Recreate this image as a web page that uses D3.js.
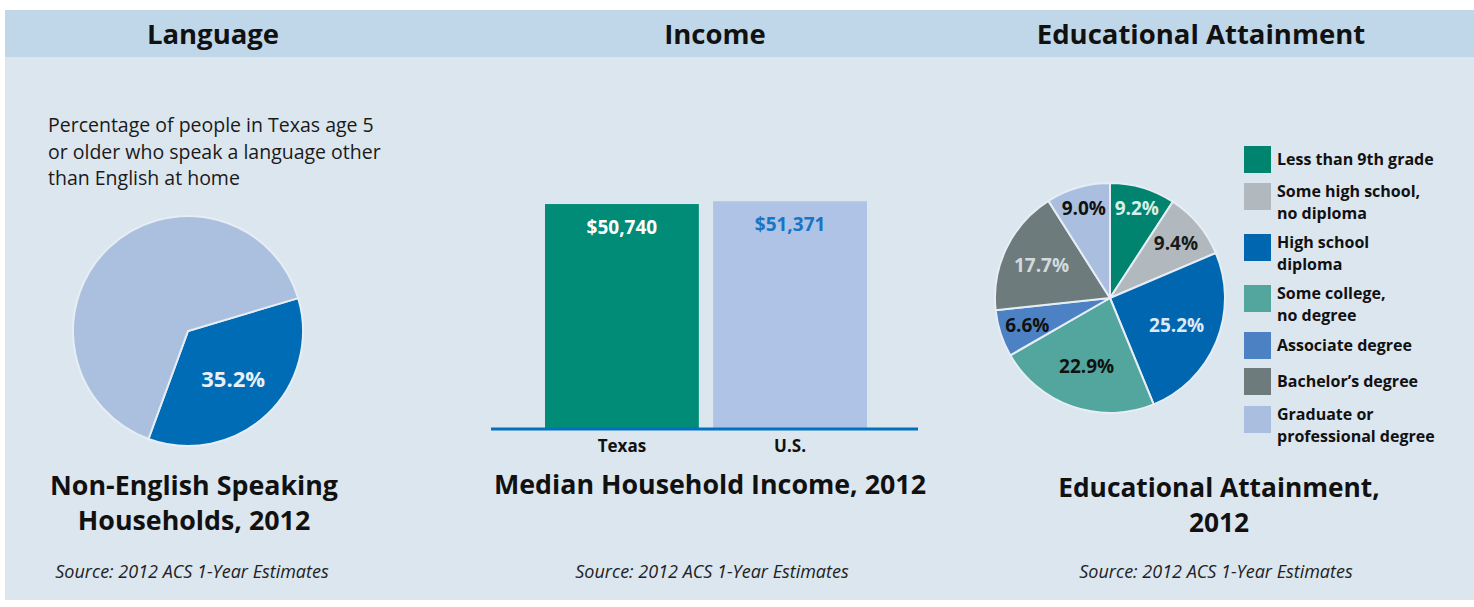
<!DOCTYPE html>
<html>
<head>
<meta charset="utf-8">
<script src="https://cdn.jsdelivr.net/npm/d3@7"></script>
<style>
  html, body { margin: 0; padding: 0; background: #fff; }
  svg { display: block; font-family: "Open Sans", Lato, sans-serif; }
</style>
</head>
<body>
<svg id="chart" width="1474" height="607"></svg>
<script>
// ---- data ----
const panelTitles = ['Language', 'Income', 'Educational Attainment'];

const langCats = ['Speak another language', 'English only'];
const langShares = [35.2, 64.8];

const incomeCats = ['Texas', 'U.S.'];
const incomeVals = [50740, 51371];

const eduCats = ['Less than 9th grade', 'Some high school,\nno diploma', 'High school\ndiploma',
  'Some college,\nno degree', 'Associate degree', 'Bachelor\u2019s degree', 'Graduate or\nprofessional degree'];
const eduShares = [9.2, 9.4, 25.2, 22.9, 6.6, 17.7, 9.0];

// ---- styles ----
const langColors = ['#006cb5', '#abc0df'];
const incomeColors = ['#008c77', '#aec3e6'];
const incomeLabelColors = ['#ffffff', '#1a74c4'];
const eduColors = ['#008470', '#b1b9bf', '#0066b0', '#52a69e', '#4c82c3', '#6e7b7d', '#aabfe0'];
const eduLabelColors = ['#d9efe9', '#1a1a1a', '#dde9f6', '#111111', '#111111', '#d3dadc', '#111111'];
// how far from the centre each slice label sits
const eduLabelRadius = [94, 86, 72, 72, 87, 76, 94];

const svg = d3.select('#chart');

// background panel + header band
svg.append('rect').attr('x', 5).attr('y', 10).attr('width', 1469).attr('height', 590).attr('fill', '#dce6ef');
svg.append('rect').attr('x', 5).attr('y', 10).attr('width', 1469).attr('height', 47).attr('fill', '#c0d7ea');

const headerX = [213, 715, 1201];
svg.selectAll('.ptitle').data(panelTitles).join('text')
  .attr('class', 'ptitle')
  .attr('x', (d, i) => headerX[i]).attr('y', 44)
  .attr('text-anchor', 'middle')
  .attr('font-size', 27.5).attr('font-weight', 700).attr('fill', '#111')
  .text(d => d);

function multiLine(sel, lines, x, y0, dy) {
  lines.forEach((l, i) => sel.append('tspan').attr('x', x).attr('y', y0 + i * dy).text(l));
}

function source(x) {
  svg.append('text').attr('x', x).attr('y', 578).attr('text-anchor', 'middle')
    .attr('font-size', 18).attr('font-style', 'italic').attr('fill', '#222')
    .text('Source: 2012 ACS 1-Year Estimates');
}

// ---- Language pie ----
{
  const g = svg.append('g').attr('transform', 'translate(188,331)');
  const a0 = 73.4 * Math.PI / 180;
  const pie = d3.pie().sort(null).startAngle(a0).endAngle(a0 + 2 * Math.PI);
  const arc = d3.arc().innerRadius(0).outerRadius(115);
  const labelArc = d3.arc().innerRadius(66).outerRadius(66);
  const arcs = pie(langShares);

  g.selectAll('path').data(arcs).join('path')
    .attr('d', arc)
    .attr('fill', (d, i) => langColors[i])
    .attr('stroke', '#e6edf5').attr('stroke-width', 2);

  g.append('text')
    .attr('transform', `translate(${labelArc.centroid(arcs[0])})`)
    .attr('text-anchor', 'middle').attr('dy', '0.36em')
    .attr('font-size', 22).attr('font-weight', 700).attr('fill', '#e8f0f8')
    .text(langShares[0].toFixed(1) + '%');

  const sub = svg.append('text').attr('font-size', 19.5).attr('fill', '#1a1a1a');
  multiLine(sub, ['Percentage of people in Texas age 5', 'or older who speak a language other', 'than English at home'], 48, 132, 26.5);

  const t = svg.append('text').attr('text-anchor', 'middle')
    .attr('font-size', 26.8).attr('font-weight', 700).attr('fill', '#111');
  multiLine(t, ['Non-English Speaking', 'Households, 2012'], 194, 495, 35);
  source(192);
}

// ---- Income bars ----
{
  const x = d3.scaleBand().domain(incomeCats).range([545, 867]).paddingInner(0.085);
  const y = d3.scaleLinear().domain([0, 60000]).range([429, 163]);

  svg.selectAll('.bar').data(incomeVals).join('rect')
    .attr('class', 'bar')
    .attr('x', (d, i) => x(incomeCats[i]))
    .attr('y', d => y(d))
    .attr('width', x.bandwidth())
    .attr('height', d => y(0) - y(d))
    .attr('fill', (d, i) => incomeColors[i]);

  svg.selectAll('.barlab').data(incomeVals).join('text')
    .attr('class', 'barlab')
    .attr('x', (d, i) => x(incomeCats[i]) + x.bandwidth() / 2)
    .attr('y', d => y(d) + 30)
    .attr('text-anchor', 'middle')
    .attr('font-size', 19).attr('font-weight', 700)
    .attr('fill', (d, i) => incomeLabelColors[i])
    .text(d => '$' + d3.format(',')(d));

  const axis = d3.axisBottom(x).tickSize(0).tickPadding(11);
  const ax = svg.append('g').attr('transform', `translate(0,${y(0)})`).call(axis);
  ax.select('.domain').remove();
  ax.append('line').attr('x1', 491).attr('x2', 918).attr('y1', 0).attr('y2', 0)
    .attr('stroke', '#0070c0').attr('stroke-width', 3);
  ax.selectAll('.tick text')
    .attr('font-family', '"Open Sans", sans-serif')
    .attr('font-size', 17).attr('font-weight', 700).attr('fill', '#111');

  svg.append('text').attr('x', 710).attr('y', 494).attr('text-anchor', 'middle')
    .attr('font-size', 26.8).attr('font-weight', 700).attr('fill', '#111')
    .text('Median Household Income, 2012');
  source(712);
}

// ---- Educational attainment pie ----
{
  const g = svg.append('g').attr('transform', 'translate(1110,298)');
  const pie = d3.pie().sort(null);
  const arc = d3.arc().innerRadius(0).outerRadius(115);
  const arcs = pie(eduShares);

  g.selectAll('path').data(arcs).join('path')
    .attr('d', arc)
    .attr('fill', (d, i) => eduColors[i])
    .attr('stroke', '#e6edf5').attr('stroke-width', 2);

  g.selectAll('.elab').data(arcs).join('text')
    .attr('class', 'elab')
    .attr('transform', (d, i) => {
      const r = eduLabelRadius[i];
      const a = (d.startAngle + d.endAngle) / 2;
      return `translate(${r * Math.sin(a)},${-r * Math.cos(a)})`;
    })
    .attr('text-anchor', 'middle').attr('dy', '0.36em')
    .attr('font-size', 19).attr('font-weight', 700)
    .attr('fill', (d, i) => eduLabelColors[i])
    .text(d => d.data.toFixed(1) + '%');

  // legend, one text per line
  const legY = [146, 183, 234, 285, 332, 368, 406];
  const leg = svg.append('g');
  eduCats.forEach((c, i) => {
    leg.append('rect').attr('x', 1244).attr('y', legY[i]).attr('width', 27).attr('height', 27)
      .attr('fill', eduColors[i]);
    const lines = c.split('\n');
    const y0 = lines.length === 1 ? legY[i] + 19 : legY[i] + 14;
    lines.forEach((l, j) => {
      leg.append('text').attr('x', 1277).attr('y', y0 + j * 22)
        .attr('font-size', 16).attr('font-weight', 700).attr('fill', '#111')
        .text(l);
    });
  });

  const t = svg.append('text').attr('text-anchor', 'middle')
    .attr('font-size', 26.3).attr('font-weight', 700).attr('fill', '#111');
  multiLine(t, ['Educational Attainment,', '2012'], 1219, 497, 35);
  source(1216);
}
</script>
</body>
</html>
